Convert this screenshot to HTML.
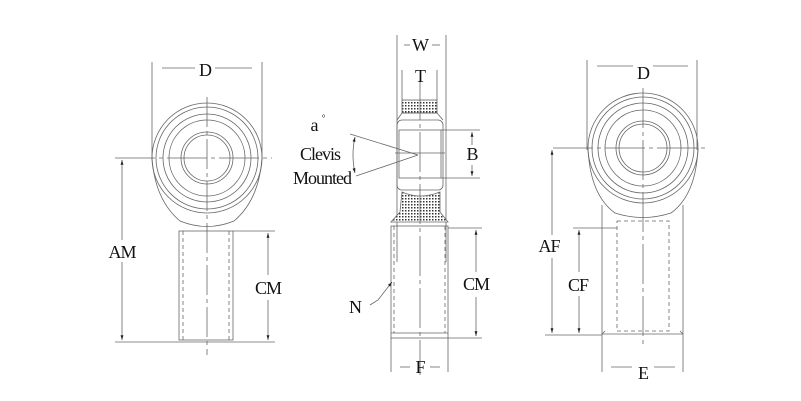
<!DOCTYPE html>
<html><head><meta charset="utf-8"><style>
html,body{margin:0;padding:0;background:#fff}
svg{display:block}
text{font-family:"Liberation Serif",serif;font-size:18px;letter-spacing:-1px;fill:#111;text-anchor:middle}
</style></head><body>
<svg width="801" height="401" viewBox="0 0 801 401" xmlns="http://www.w3.org/2000/svg">
<defs>
<pattern id="h" width="3" height="3" patternUnits="userSpaceOnUse"><rect width="3" height="3" fill="#fff"/><rect width="1.5" height="1.5" fill="#333"/></pattern>
<marker id="a" viewBox="0 0 10 10" refX="10" refY="5" markerWidth="6" markerHeight="8" orient="auto-start-reverse"><path d="M0,2 L10,5 L0,8z" fill="#222"/></marker>
</defs>
<g stroke="#666" stroke-width="0.8" fill="none">
<!-- LEFT VIEW -->
<line x1="152" y1="62" x2="152" y2="160"/><line x1="262" y1="62" x2="262" y2="160"/>
<line x1="162" y1="68" x2="195" y2="68"/><line x1="215" y1="68" x2="252" y2="68"/>
<circle cx="207" cy="158" r="55"/><circle cx="207" cy="158" r="51"/><circle cx="207" cy="158" r="44"/>
<circle cx="207" cy="158" r="38"/><circle cx="207" cy="158" r="26"/><circle cx="207" cy="158" r="23"/>
<path d="M152,158 Q155,200 180,221 Q207,232 234,221 Q259,200 262,158"/>
<rect x="179" y="231" width="54" height="109"/>
<line x1="183" y1="231" x2="183" y2="340" stroke-dasharray="4,3"/><line x1="229" y1="231" x2="229" y2="340" stroke-dasharray="4,3"/>
<line x1="207" y1="97" x2="207" y2="355" stroke-dasharray="30,4,4,4"/>
<line x1="115" y1="158" x2="272" y2="158" stroke-dasharray="40,4,4,4"/>
<line x1="115" y1="342" x2="275" y2="342"/>
<line x1="233" y1="231" x2="275" y2="231"/>
<line x1="122" y1="160" x2="122" y2="240" marker-start="url(#a)"/><line x1="122" y1="262" x2="122" y2="340" marker-end="url(#a)"/>
<line x1="268" y1="233" x2="268" y2="275" marker-start="url(#a)"/><line x1="268" y1="300" x2="268" y2="340" marker-end="url(#a)"/>
<!-- MIDDLE VIEW -->
<line x1="397" y1="35" x2="397" y2="262"/><line x1="446" y1="35" x2="446" y2="262"/>
<line x1="404" y1="45" x2="410" y2="45"/><line x1="432" y1="45" x2="440" y2="45"/>
<line x1="402" y1="70" x2="402" y2="100"/><line x1="437" y1="70" x2="437" y2="100"/>
<rect x="402" y="100" width="35" height="13" fill="url(#h)"/>
<path d="M397,120 L402,113 L437,113 L443,120"/>
<rect x="397" y="120" width="46" height="70" rx="5"/>
<rect x="399" y="130" width="42" height="48"/>
<line x1="441" y1="130" x2="480" y2="130"/><line x1="441" y1="178" x2="480" y2="178"/>
<line x1="472" y1="132" x2="472" y2="145" marker-start="url(#a)"/><line x1="472" y1="165" x2="472" y2="176" marker-end="url(#a)"/>
<path d="M402,192 Q420,200 440,192 L440,212 L448,222 L391,222 L400,212 Z" fill="url(#h)"/>
<rect x="391" y="226" width="57" height="112"/>
<line x1="394" y1="226" x2="394" y2="333" stroke-dasharray="4,3"/><line x1="445" y1="226" x2="445" y2="333" stroke-dasharray="4,3"/>
<line x1="391" y1="333" x2="448" y2="333"/>
<line x1="420" y1="80" x2="420" y2="375" stroke-dasharray="40,4,4,4"/>
<line x1="391" y1="338" x2="391" y2="372"/><line x1="448" y1="338" x2="448" y2="372"/>
<line x1="400" y1="367" x2="410" y2="367"/><line x1="430" y1="367" x2="440" y2="367"/>
<line x1="448" y1="228" x2="482" y2="228"/><line x1="448" y1="338" x2="482" y2="338"/>
<line x1="476" y1="230" x2="476" y2="272" marker-start="url(#a)"/><line x1="476" y1="297" x2="476" y2="336" marker-end="url(#a)"/>
<line x1="350" y1="134" x2="418" y2="155"/><line x1="356" y1="176" x2="418" y2="155"/>
<path d="M355,137 Q351,155 355,173" marker-start="url(#a)" marker-end="url(#a)"/>
<line x1="395" y1="153" x2="445" y2="153"/>
<path d="M370,305 L378,300 L392,282" marker-end="url(#a)"/>
<!-- RIGHT VIEW -->
<line x1="587" y1="60" x2="587" y2="150"/><line x1="697" y1="60" x2="697" y2="150"/>
<line x1="597" y1="66" x2="633" y2="66"/><line x1="653" y1="66" x2="688" y2="66"/>
<circle cx="643" cy="148" r="55"/><circle cx="643" cy="148" r="51"/><circle cx="643" cy="148" r="45"/>
<circle cx="643" cy="148" r="38"/><circle cx="643" cy="148" r="27"/><circle cx="643" cy="148" r="24"/>
<path d="M588,148 Q590,195 615,213 Q643,222 671,213 Q696,195 698,148"/>
<line x1="602" y1="205" x2="602" y2="372"/><line x1="683" y1="205" x2="683" y2="372"/>
<line x1="602" y1="334" x2="683" y2="334"/><line x1="602" y1="334" x2="605" y2="331"/><line x1="680" y1="331" x2="683" y2="334"/>
<rect x="617" y="221" width="52" height="110" stroke-dasharray="4,3"/>
<line x1="643" y1="88" x2="643" y2="345" stroke-dasharray="40,4,4,4"/>
<line x1="553" y1="148" x2="705" y2="148" stroke-dasharray="40,4,4,4"/>
<line x1="545" y1="335" x2="602" y2="335"/><line x1="573" y1="228" x2="617" y2="228"/>
<line x1="552" y1="150" x2="552" y2="235" marker-start="url(#a)"/><line x1="552" y1="258" x2="552" y2="333" marker-end="url(#a)"/>
<line x1="579" y1="230" x2="579" y2="272" marker-start="url(#a)"/><line x1="579" y1="296" x2="579" y2="333" marker-end="url(#a)"/>
<line x1="611" y1="367" x2="632" y2="367"/><line x1="654" y1="367" x2="675" y2="367"/>
</g>
<text x="205" y="76">D</text>
<text x="122" y="258">AM</text>
<text x="268" y="294">CM</text>
<text x="420" y="51">W</text>
<text x="420" y="82">T</text>
<text x="314" y="131">a</text>
<text x="323" y="121" style="font-size:9px">°</text>
<text x="320" y="160">Clevis</text>
<text x="322" y="184">Mounted</text>
<text x="472" y="160">B</text>
<text x="476" y="290">CM</text>
<text x="355" y="313">N</text>
<text x="420" y="373">F</text>
<text x="643" y="79">D</text>
<text x="549" y="252">AF</text>
<text x="578" y="291">CF</text>
<text x="643" y="379">E</text>
</svg>
</body></html>
